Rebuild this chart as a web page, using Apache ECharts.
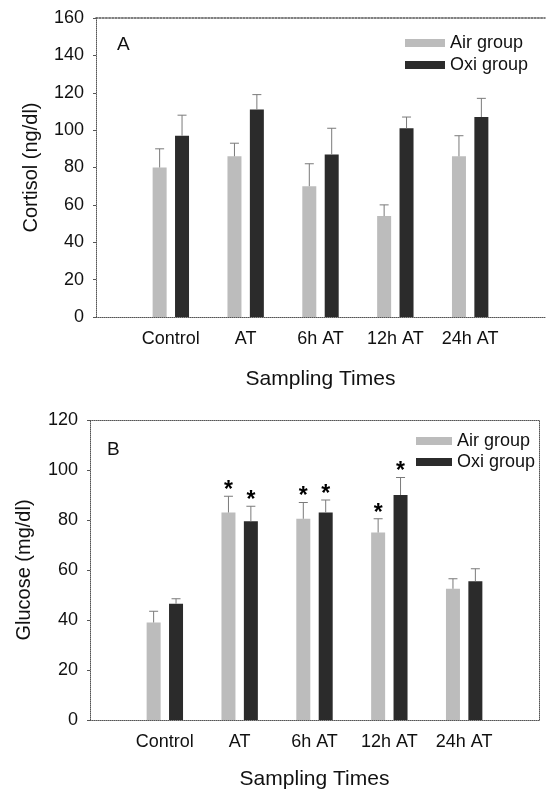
<!DOCTYPE html>
<html>
<head>
<meta charset="utf-8">
<script src="https://cdn.jsdelivr.net/npm/echarts@6/dist/echarts.min.js"></script>
<style>html,body{margin:0;padding:0;background:#fff}#c{width:548px;height:792px}</style>
</head>
<body>
<div id="c"></div>
<script>
var categories = ['Control', 'AT', '6h AT', '12h AT', '24h AT'];
var seriesNames = ['Air group', 'Oxi group'];
// Panel A: Cortisol (ng/dl)
var cortisolAir = [80, 86, 70, 54, 86];
var cortisolAirErr = [10, 7, 12, 6, 11];
var cortisolOxi = [97, 111, 87, 101, 107];
var cortisolOxiErr = [11, 8, 14, 6, 10];
// Panel B: Glucose (mg/dl)
var glucoseAir = [39, 83, 80.5, 75, 52.5];
var glucoseAirErr = [4.5, 6.5, 6.5, 5.5, 4];
var glucoseOxi = [46.5, 79.5, 83, 90, 55.5];
var glucoseOxiErr = [2, 6, 5, 7, 5];
var glucoseAirSig = [false, true, true, true, false];
var glucoseOxiSig = [false, true, true, true, false];
var yTicksA = [0, 20, 40, 60, 80, 100, 120, 140, 160];
var yTicksB = [0, 20, 40, 60, 80, 100, 120];

var FONT = 'Liberation Sans';
var TXT = '#111';
var AIR_COLOR = '#bcbcbc';
var OXI_COLOR = '#2b2b2b';
var BAR_W = 14;
var BAR_GAP = '60%';
var HALF_OFF = (BAR_W + BAR_W * 0.6) / 2;

function pts(vals, errs, sig) {
  return vals.map(function (v, i) { return [i + 1, v, errs[i], sig ? (sig[i] ? 1 : 0) : 0]; });
}

function errSeries(name, data, gi, off) {
  return {
    type: 'custom', name: name + ' err', xAxisIndex: gi * 2, yAxisIndex: gi * 2,
    silent: true, z: 5,
    data: data,
    renderItem: function (params, api) {
      var x = api.value(0), y = api.value(1), e = api.value(2), s = api.value(3);
      var p0 = api.coord([x, y]);
      var p1 = api.coord([x, y + e]);
      var cx = p0[0] + off;
      var children = [
        { type: 'line', shape: { x1: cx, y1: p0[1], x2: cx, y2: p1[1] }, style: { stroke: '#7a7a7a', lineWidth: 1 } },
        { type: 'line', shape: { x1: cx - 4.5, y1: p1[1], x2: cx + 4.5, y2: p1[1] }, style: { stroke: '#7a7a7a', lineWidth: 1 } }
      ];
      if (s) {
        children.push({ type: 'text', style: { text: '*', x: cx, y: p1[1] + 6, fill: '#000', font: 'bold 23px ' + FONT, textAlign: 'center', textVerticalAlign: 'bottom' } });
      }
      return { type: 'group', children: children };
    }
  };
}

function barSeries(name, vals, gi, color) {
  return {
    type: 'bar', name: name, xAxisIndex: gi * 2, yAxisIndex: gi * 2,
    barWidth: BAR_W, barGap: BAR_GAP,
    itemStyle: { color: color, borderWidth: 0 },
    data: vals.map(function (v, i) { return [i + 1, v]; })
  };
}

function frame(w) { return { show: true, onZero: false, lineStyle: { color: '#555', type: 'dotted', width: w || 1 } }; }

function xAxes(gi, nameGap, topW) {
  return [
    {
      type: 'value', gridIndex: gi, min: 0, max: 6, interval: 1, position: 'bottom',
      name: 'Sampling Times', nameLocation: 'middle', nameGap: nameGap,
      nameTextStyle: { fontFamily: FONT, fontSize: 21, color: TXT },
      axisLine: frame(), axisTick: { show: false }, splitLine: { show: false },
      axisLabel: {
        margin: 13, fontFamily: FONT, fontSize: 18, color: TXT,
        formatter: function (v) { return categories[v - 1] || ''; }
      }
    },
    {
      type: 'value', gridIndex: gi, min: 0, max: 6, interval: 1, position: 'top', offset: 0,
      axisLine: frame(topW), axisTick: { show: false }, axisLabel: { show: false }, splitLine: { show: false }
    }
  ];
}

function yAxes(gi, max, name, nameGap, showRight) {
  return [
    {
      type: 'value', gridIndex: gi, min: 0, max: max, interval: 20, position: 'left',
      name: name, nameLocation: 'middle', nameGap: nameGap, nameRotate: 90,
      nameTextStyle: { fontFamily: FONT, fontSize: 20, color: TXT },
      axisLine: frame(), axisTick: { show: true, length: 3, lineStyle: { color: '#555' } },
      splitLine: { show: false },
      axisLabel: { margin: 12, fontFamily: FONT, fontSize: 18, color: TXT }
    },
    {
      type: 'value', gridIndex: gi, min: 0, max: max, interval: 20, position: 'right',
      axisLine: showRight ? frame() : { show: false, onZero: false }, axisTick: { show: false }, axisLabel: { show: false }, splitLine: { show: false }
    }
  ];
}

var chart = echarts.init(document.getElementById('c'), null, { renderer: 'canvas' });
var option = {
  backgroundColor: '#fff',
  animation: false,
  title: [
    { text: 'A', left: 112, top: 30, textStyle: { fontFamily: FONT, fontSize: 19, fontWeight: 'normal', color: TXT } },
    { text: 'B', left: 102, top: 435, textStyle: { fontFamily: FONT, fontSize: 19, fontWeight: 'normal', color: TXT } }
  ],
  legend: [
    {
      data: seriesNames.map(function (n) { return { name: n }; }),
      orient: 'vertical', left: 400, top: 29, itemGap: 4, itemWidth: 40, itemHeight: 8, icon: 'rect',
      itemStyle: { borderWidth: 0 },
      textStyle: { fontFamily: FONT, fontSize: 18, color: TXT }, selectedMode: false
    },
    {
      data: seriesNames.map(function (n) { return { name: n }; }),
      orient: 'vertical', left: 411, top: 427, itemGap: 3, itemWidth: 36, itemHeight: 8, icon: 'rect',
      itemStyle: { borderWidth: 0 },
      textStyle: { fontFamily: FONT, fontSize: 18, color: TXT }, selectedMode: false
    }
  ],
  grid: [
    { left: 96, top: 18, width: 452, height: 299 },
    { left: 90, top: 420, width: 449, height: 300 }
  ],
  xAxis: xAxes(0, 52, 1.6).concat(xAxes(1, 49)),
  yAxis: yAxes(0, 160, 'Cortisol (ng/dl)', 55, false).concat(yAxes(1, 120, 'Glucose (mg/dl)', 56, true)),
  series: [
    barSeries('Air group', cortisolAir, 0, AIR_COLOR),
    barSeries('Oxi group', cortisolOxi, 0, OXI_COLOR),
    errSeries('Air group', pts(cortisolAir, cortisolAirErr), 0, -HALF_OFF),
    errSeries('Oxi group', pts(cortisolOxi, cortisolOxiErr), 0, HALF_OFF),
    barSeries('Air group', glucoseAir, 1, AIR_COLOR),
    barSeries('Oxi group', glucoseOxi, 1, OXI_COLOR),
    errSeries('Air group', pts(glucoseAir, glucoseAirErr, glucoseAirSig), 1, -HALF_OFF),
    errSeries('Oxi group', pts(glucoseOxi, glucoseOxiErr, glucoseOxiSig), 1, HALF_OFF)
  ]
};
chart.setOption(option);
</script>
</body>
</html>
